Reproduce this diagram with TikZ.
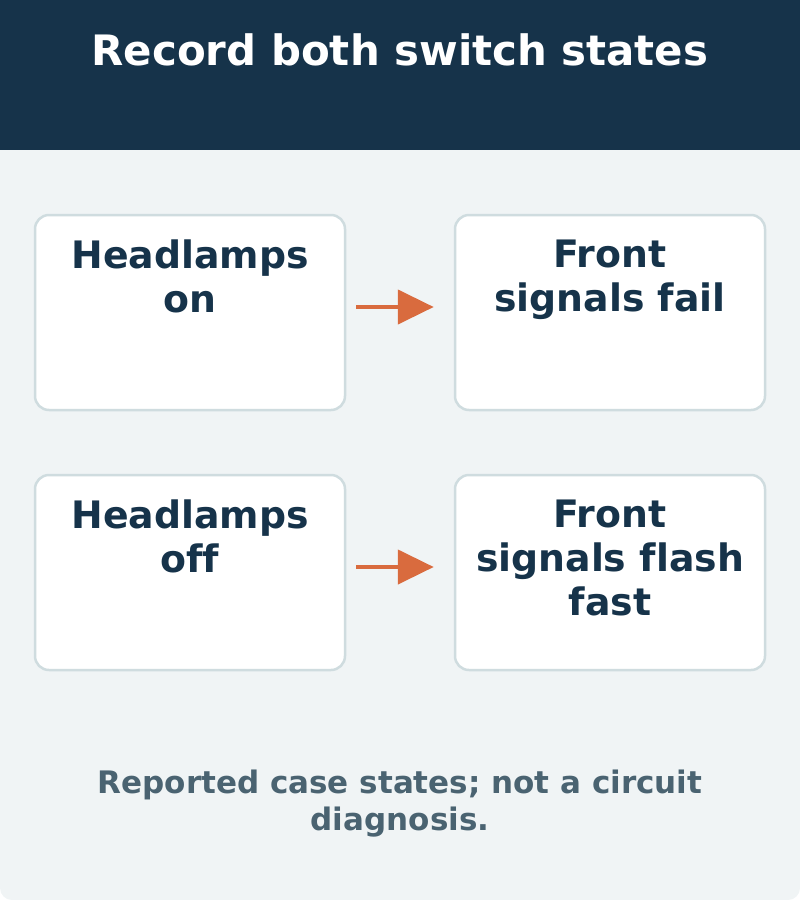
\documentclass[tikz,border=0pt]{standalone}
\usepackage{fontspec}
\setmainfont{DejaVu Sans}[Ligatures=NoCommon]
\usepackage{tikz}
\usetikzlibrary{arrows.meta, positioning}
\definecolor{head-navy}{HTML}{16334A}
\definecolor{panel-bg}{HTML}{F0F4F5}
\definecolor{card-edge}{HTML}{CFDCDF}
\definecolor{arrow-orange}{HTML}{D96B3E}
\definecolor{note-gray}{HTML}{4A6371}

\begin{document}
\begin{tikzpicture}[
    x=1pt, y=-1pt,
    card/.style={rectangle, draw=card-edge, line width=2.5pt, rounded corners=14pt,
                 fill=white, minimum width=310pt, minimum height=195pt},
    cardtxt/.style={align=center, inner sep=0pt, text=head-navy,
                    font=\fontsize{37.8}{44}\selectfont\bfseries},
    arr/.style={-{Triangle[length=36pt, width=34pt]}, line width=4.5pt,
                arrow-orange, shorten <=10pt, shorten >=20pt},
]

% page, panel and header band
\useasboundingbox (0,0) rectangle (800,900);
\fill[panel-bg, rounded corners=12pt] (0,0) rectangle (800,900);
\fill[head-navy] (0,0) rectangle (800,150);

\node[font=\fontsize{41.9}{48}\selectfont\bfseries, text=white, anchor=base]
    (title) at (400,65) {Record both switch states};

% row 1
\node[card] (hon) at (190,312.5) {};
\node[card] (fail) at (610,312.5) {};
\node[cardtxt, anchor=north] (honT) at (190,240) {Headlamps\\on};
\node[cardtxt, anchor=north] (failT) at (610,240) {Front\\signals fail};

% row 2
\node[card] (hoff) at (190,572.5) {};
\node[card] (fast) at (610,572.5) {};
\node[cardtxt, anchor=north] (hoffT) at (190,500) {Headlamps\\off};
\node[cardtxt, anchor=north] (fastT) at (610,500) {Front\\signals flash\\fast};

\draw[arr] ([yshift=5.5pt]hon.east) -- ([yshift=5.5pt]fail.west);
\draw[arr] ([yshift=5.5pt]hoff.east) -- ([yshift=5.5pt]fast.west);

% footer note
\node[align=center, inner sep=0pt, text=note-gray, anchor=north,
      font=\fontsize{31}{37}\selectfont\bfseries]
    (note) at (400,770) {Reported case states; not a circuit\\diagnosis.};

\end{tikzpicture}
\end{document}
